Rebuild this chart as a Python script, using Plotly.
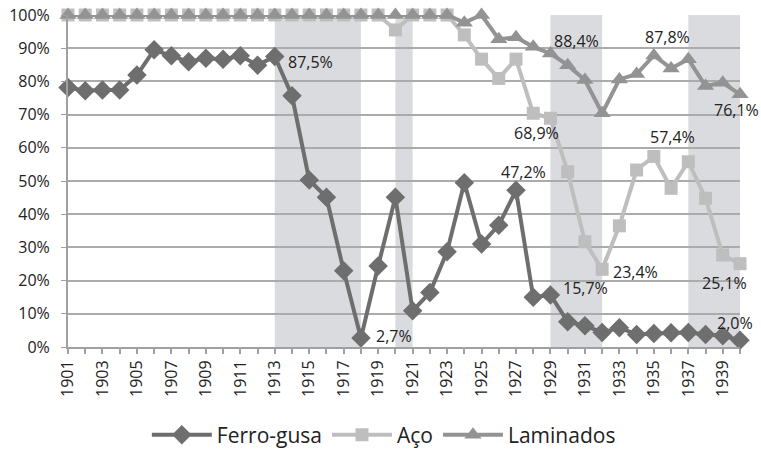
import plotly.graph_objects as go

years = list(range(1901, 1941))

ferro_gusa = [78.2, 77.2, 77.4, 77.4, 81.9, 89.5, 87.7, 85.9, 87.0, 86.7,
              87.7, 84.9, 87.5, 75.7, 50.3, 45.1, 23.0, 2.7, 24.4, 45.1,
              10.9, 16.4, 28.7, 49.5, 31.0, 36.7, 47.2, 15.0, 15.7, 7.6,
              6.4, 4.4, 5.8, 3.8, 4.1, 4.3, 4.4, 3.8, 3.4, 2.0]

aco = [100, 100, 100, 100, 100, 100, 100, 100, 100, 100,
       100, 100, 100, 100, 100, 100, 100, 100, 100, 95.5,
       100, 100, 100, 94.0, 86.7, 80.9, 86.7, 70.4, 68.9, 52.8,
       31.7, 23.4, 36.5, 53.3, 57.4, 47.8, 55.8, 44.8, 27.7, 25.1]

laminados = [100, 100, 100, 100, 100, 100, 100, 100, 100, 100,
             100, 100, 100, 100, 100, 100, 100, 100, 100, 100,
             100, 100, 100, 97.7, 100, 92.7, 93.3, 90.4, 88.4, 84.9,
             80.4, 70.4, 80.6, 82.2, 87.8, 83.9, 86.7, 78.6, 79.6, 76.1]

shaded_periods = [(1913, 1918), (1920, 1921), (1929, 1932), (1937, 1940)]

tick_years = list(range(1901, 1941, 2))
y_ticks = list(range(0, 101, 10))

series = {
    "Ferro-gusa": (ferro_gusa, "#6e6e6e", "diamond", 15),
    "Aço": (aco, "#bebebe", "square", 13),
    "Laminados": (laminados, "#939393", "triangle-up", 15),
}

# (series, year, x-shift px, y-shift px)
labels = [
    ("Ferro-gusa", 1913, 36, -5),
    ("Ferro-gusa", 1918, 33, 2),
    ("Ferro-gusa", 1927, 7, 18),
    ("Ferro-gusa", 1929, 35, 7),
    ("Ferro-gusa", 1940, -5, 17),
    ("Aço", 1929, -14, -15),
    ("Aço", 1932, 33, -3),
    ("Aço", 1935, 19, 19),
    ("Aço", 1940, -16, -19),
    ("Laminados", 1929, 26, 13),
    ("Laminados", 1935, 14, 19),
    ("Laminados", 1940, -4, -16),
]

FONT = "Open Sans"
fig = go.Figure()

for x0, x1 in shaded_periods:
    fig.add_shape(type="rect", xref="x", yref="paper", x0=x0, x1=x1, y0=0, y1=1,
                  fillcolor="rgb(218,219,222)", line_width=0, layer="below")

for name, (vals, col, sym, size) in series.items():
    fig.add_trace(go.Scatter(
        x=years, y=vals, name=name, mode="lines+markers",
        line=dict(color=col, width=4),
        marker=dict(symbol=sym, size=size, color=col),
        cliponaxis=False,
    ))

for name, yr, dx, dy in labels:
    v = series[name][0][years.index(yr)]
    fig.add_annotation(x=yr, y=v, text=f"{v:.1f}%".replace(".", ","),
                       showarrow=False, xanchor="center", yanchor="middle",
                       xshift=dx, yshift=dy,
                       font=dict(family=FONT, size=16, color="#222222"))

fig.update_layout(
    width=761, height=449,
    margin=dict(l=68, r=21, t=15, b=102, autoexpand=False),
    plot_bgcolor="white", paper_bgcolor="white",
    font=dict(family=FONT, size=16, color="#222222"),
    showlegend=True,
    legend=dict(orientation="h", x=0.47, xanchor="center", y=-0.265, yanchor="middle",
                font=dict(family=FONT, size=21, color="#222222"),
                itemwidth=60, traceorder="normal"),
    xaxis=dict(range=[1901, 1940], tickmode="array", tickvals=tick_years,
               ticktext=[str(y) for y in tick_years], tickangle=-90,
               showgrid=False, zeroline=False, automargin=False,
               showline=True, linecolor="#a0a0a0", linewidth=2,
               ticks="outside", ticklen=5, tickcolor="#a0a0a0", tickwidth=1.5,
               minor=dict(dtick=1, tick0=1901, ticks="outside", ticklen=5,
                          tickcolor="#a0a0a0", tickwidth=1.5, showgrid=False),
               tickfont=dict(family=FONT, size=16, color="#222222")),
    yaxis=dict(range=[0, 100], tickmode="array", tickvals=y_ticks,
               ticktext=[f"{t}%" for t in y_ticks], automargin=False,
               showgrid=True, gridcolor="#ababab", gridwidth=1.5, zeroline=False,
               showline=True, linecolor="#a0a0a0", linewidth=2,
               ticks="outside", ticklen=5, tickcolor="#a0a0a0",
               ticklabelstandoff=8,
               tickfont=dict(family=FONT, size=16, color="#222222")),
)

fig.write_html("out.html", config={"displayModeBar": False},
               post_script="document.body.style.margin='0';document.body.style.overflow='hidden';")
